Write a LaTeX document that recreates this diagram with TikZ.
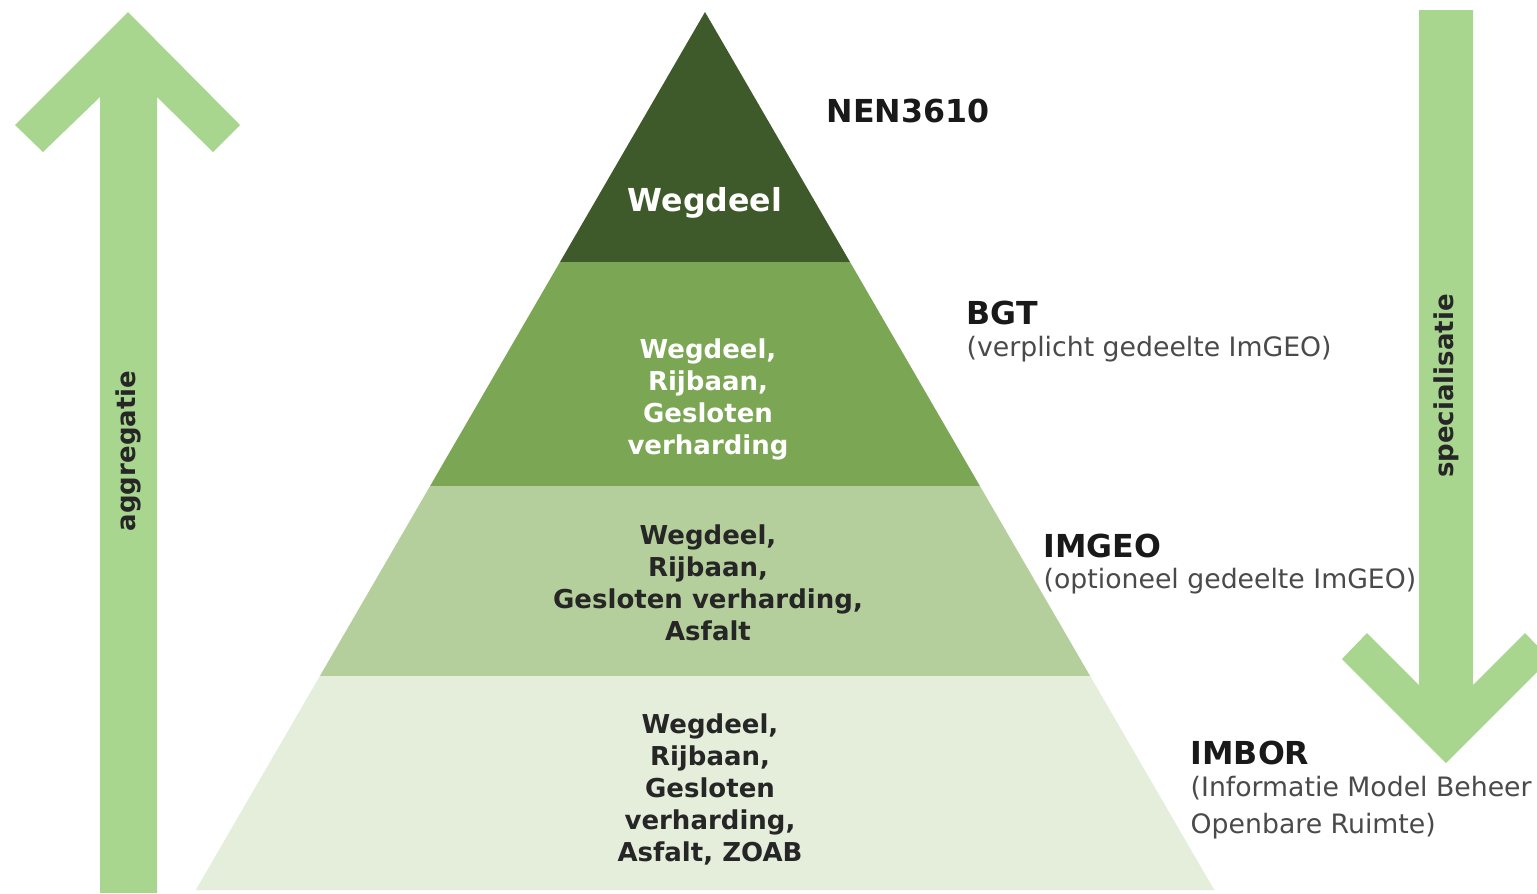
\documentclass[tikz,border=0pt]{standalone}
\usepackage{fontspec}
\setmainfont{DejaVu Sans}
\usepackage{tikz}

\definecolor{pilgreen}{HTML}{A8D68F}
\definecolor{pyrA}{HTML}{3F5A2A}
\definecolor{pyrB}{HTML}{7BA653}
\definecolor{pyrC}{HTML}{B4CF9C}
\definecolor{pyrD}{HTML}{E4EEDA}
\definecolor{subgray}{HTML}{4A4A4A}

\tikzset{
	layertext/.style={align=center,font=\bfseries\fontsize{7.4}{9.1}\selectfont},
	modelname/.style={anchor=west,inner xsep=0pt,font=\bfseries\fontsize{9}{11}\selectfont,text=black!90},
	modelsub/.style={anchor=west,inner xsep=0pt,align=left,font=\fontsize{7.6}{10.5}\selectfont,text=subgray},
	pijltext/.style={rotate=90,font=\bfseries\fontsize{7.4}{9}\selectfont,text=black!85}
}

\begin{document}
\begin{tikzpicture}[x=0.1mm,y=-0.1mm]
	\def\s{0.58}
	\def\top{705}
	\clip (0,0) rectangle (1537,893);
	\fill[white] (0,0) rectangle (1537,893);
	
	%ARROWS
	\fill[pilgreen] (128,12) -- (240,125) -- (213,152) -- (157,97) -- (157,893) -- (100,893) -- (100,97) -- (43,152) -- (15,125) -- cycle;
	\fill[pilgreen] (1446,763) -- (1342,659) -- (1367,633) -- (1419,685) -- (1419,10) -- (1473,10) -- (1473,685) -- (1525,633) -- (1550,659) -- cycle;
	\node[pijltext] (aggr) at (128,451) {aggregatie};
	\node[pijltext] (spec) at (1446,386) {specialisatie};
	
	%PYRAMID
	\foreach \ya/\yb/\c in {12/262/pyrA, 262/486/pyrB, 486/676/pyrC, 676/890/pyrD}
		\fill[\c] ({\top-\s*(\ya-12)},\ya) -- ({\top+\s*(\ya-12)},\ya) -- ({\top+\s*(\yb-12)},\yb) -- ({\top-\s*(\yb-12)},\yb) -- cycle;
	
	\node[layertext,text=white,font=\bfseries\fontsize{9}{11}\selectfont] (wegdeel) at (705,203) {Wegdeel};
	\node[layertext,text=white] (bgtlaag) at (708,399) {Wegdeel,\\Rijbaan,\\Gesloten\\verharding};
	\node[layertext,text=black!85] (imgeolaag) at (708,583) {Wegdeel,\\Rijbaan,\\Gesloten verharding,\\Asfalt};
	\node[layertext,text=black!85] (imborlaag) at (710,789) {Wegdeel,\\Rijbaan,\\Gesloten\\verharding,\\Asfalt, ZOAB};
	
	%LABELS
	\node[modelname] (nen) at (826,111) {NEN3610};
	\node[modelname] (bgt) at (966,313) {BGT};
	\node[modelsub] (bgtsub) at (966,349) {(verplicht gedeelte ImGEO)};
	\node[modelname] (imgeo) at (1043,546) {IMGEO};
	\node[modelsub] (imgeosub) at (1043,581) {(optioneel gedeelte ImGEO)};
	\node[modelname] (imbor) at (1190,753) {IMBOR};
	\node[modelsub] (imborsub) at (1190,808) {(Informatie Model Beheer\\Openbare Ruimte)};
\end{tikzpicture}
\end{document}
